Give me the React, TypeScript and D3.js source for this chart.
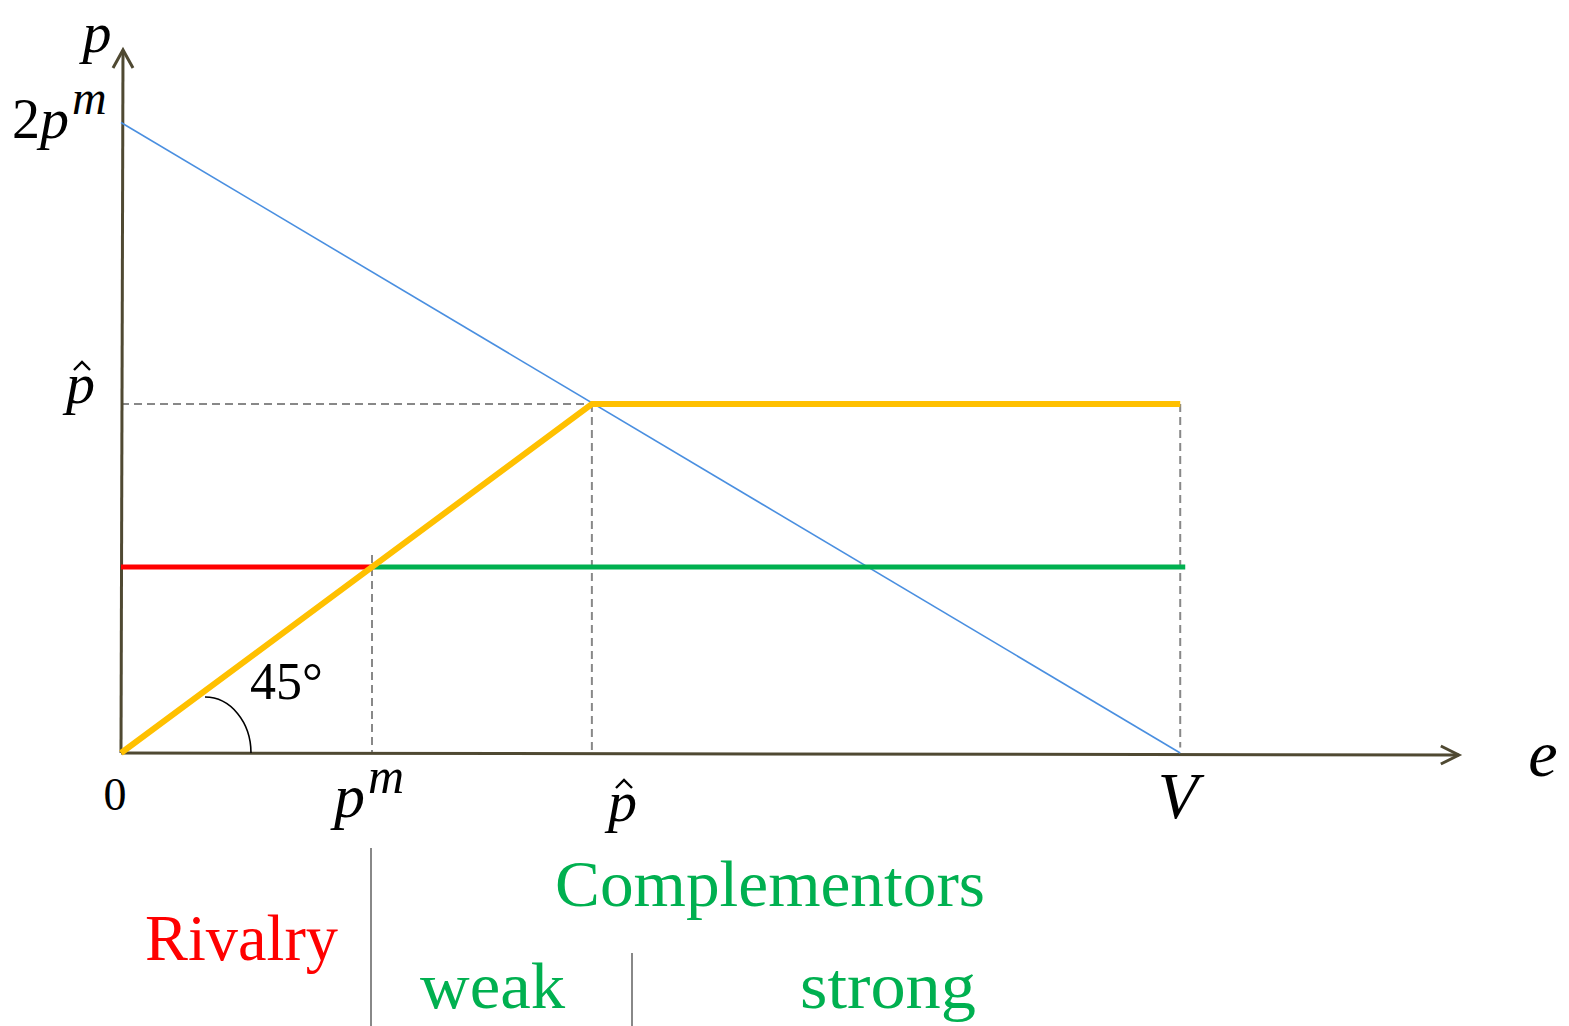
import React from "react";
import * as d3 from "d3";

// Key values (schematic units: p^m = 1)
const pm = 1;
const pHat = 1.876;
const V = 4.22;
const twoPm = 3.39; // visual position of the 2p^m intercept
const xAxisMax = 5.33;
const yAxisMax = 3.78;
const greenEnd = 4.24;

// Segments
const demandLine: [number, number][] = [[0, twoPm], [V, 0]];
const orangeLine: [number, number][] = [[0, 0], [pHat, pHat], [V, pHat]];
const redLine: [number, number][] = [[0, pm], [pm, pm]];
const greenLine: [number, number][] = [[pm, pm], [greenEnd, pm]];
const dashed: [number, number][][] = [
  [[0, pHat], [pHat, pHat]],
  [[pm, 1.065], [pm, 0]],
  [[pHat, pHat], [pHat, 0]],
  [[V, pHat], [V, 0.03]],
];

const W = 1569;
const H = 1026;

const x = d3.scaleLinear().domain([0, 1]).range([121, 372]);
const y = d3.scaleLinear().domain([0, 1]).range([753, 567]);
const line = d3.line<[number, number]>().x((d) => x(d[0])).y((d) => y(d[1]));

const axisColor = "#4f4932";
const mathFont = "'Liberation Serif', 'DejaVu Serif', serif";

function hat(cx: number, by: number) {
  return `M${cx - 8},${by} L${cx},${by - 8} L${cx + 8},${by}`;
}

export default function App() {
  const ox = x(0);
  const oy = y(0);
  const yTop = y(yAxisMax);
  const xEnd = x(xAxisMax);
  return (
    <svg
      width={W}
      height={H}
      style={{ position: "absolute", left: 0, top: 0, background: "#fff" }}
    >
      {/* dashed guides */}
      {dashed.map((seg, i) => (
        <path
          key={i}
          d={line(seg) || ""}
          stroke="#888"
          strokeWidth={2}
          strokeDasharray="8,5"
          fill="none"
        />
      ))}
      {/* axes */}
      <line x1={ox} y1={oy} x2={ox + 2} y2={yTop} stroke={axisColor} strokeWidth={3} />
      <line x1={ox} y1={oy} x2={xEnd} y2={oy + 2} stroke={axisColor} strokeWidth={3} />
      <path
        d={`M${ox + 2 - 10},${yTop + 18} L${ox + 2},${yTop} L${ox + 2 + 10},${yTop + 18}`}
        stroke={axisColor}
        strokeWidth={3}
        fill="none"
      />
      <path
        d={`M${xEnd - 18},${oy + 2 - 9} L${xEnd},${oy + 2} L${xEnd - 18},${oy + 2 + 9}`}
        stroke={axisColor}
        strokeWidth={3}
        fill="none"
      />
      {/* demand line */}
      <path d={line(demandLine) || ""} stroke="#4a8fe0" strokeWidth={1.6} fill="none" />
      {/* red / green */}
      <path d={line(redLine) || ""} stroke="#ff0000" strokeWidth={5} fill="none" />
      <path d={line(greenLine) || ""} stroke="#00b050" strokeWidth={5} fill="none" />
      {/* orange */}
      <path d={line(orangeLine) || ""} stroke="#ffc000" strokeWidth={6} fill="none" strokeLinejoin="miter" />
      {/* 45 deg arc */}
      <path d={`M${ox + 84},${oy - 56} A46,56 0 0 1 ${ox + 130},${oy}`} stroke="#000" strokeWidth={1.6} fill="none" />

      {/* labels */}
      <g fontFamily={mathFont} fill="#000">
        <text x={97} y={52} fontSize={58} fontStyle="italic" textAnchor="middle">p</text>
        <text x={12} y={138} fontSize={56}>
          2<tspan fontStyle="italic" fontSize={58}>p</tspan>
          <tspan fontStyle="italic" fontSize={48} dy={-24} dx={3}>m</tspan>
        </text>
        <text x={66} y={403} fontSize={58} fontStyle="italic">p</text>
        <text x={115} y={810} fontSize={46} textAnchor="middle">0</text>
        <text x={334} y={817} fontSize={62} fontStyle="italic">
          p<tspan fontSize={50} dy={-24} dx={3}>m</tspan>
        </text>
        <text x={608} y={821} fontSize={58} fontStyle="italic">p</text>
        <text x={1178} y={818} fontSize={66} fontStyle="italic" textAnchor="middle">V</text>
        <text x={1543} y={776} fontSize={66} fontStyle="italic" textAnchor="middle">e</text>
        <text x={250} y={699} fontSize={52}>45°</text>
      </g>
      <path d={hat(82, 370)} stroke="#000" strokeWidth={2.4} fill="none" strokeLinejoin="miter" />
      <path d={hat(624, 788)} stroke="#000" strokeWidth={2.4} fill="none" strokeLinejoin="miter" />

      {/* regime labels */}
      <line x1={371} y1={848} x2={371} y2={1026} stroke="#888" strokeWidth={2} />
      <line x1={632} y1={953} x2={632} y2={1026} stroke="#888" strokeWidth={2} />
      <g fontFamily="'Liberation Serif', serif">
        <text x={555} y={906} fontSize={66} fill="#00b050" textLength={430} lengthAdjust="spacingAndGlyphs">Complementors</text>
        <text x={145} y={960} fontSize={66} fill="#ff0000" textLength={193} lengthAdjust="spacingAndGlyphs">Rivalry</text>
        <text x={420} y={1008} fontSize={66} fill="#00b050" textLength={145} lengthAdjust="spacingAndGlyphs">weak</text>
        <text x={800} y={1008} fontSize={66} fill="#00b050" textLength={176} lengthAdjust="spacingAndGlyphs">strong</text>
      </g>
    </svg>
  );
}
